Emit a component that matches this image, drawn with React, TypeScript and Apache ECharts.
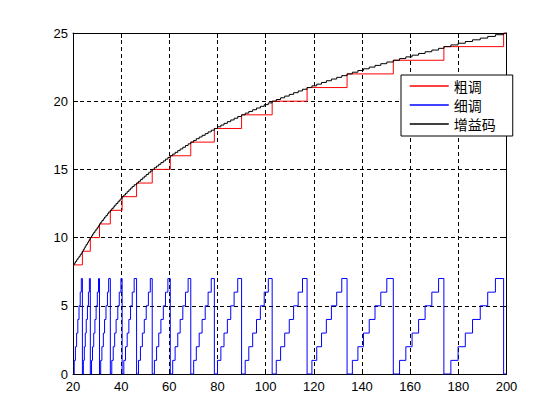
import React, { useEffect, useRef } from "react";
import * as echarts from "echarts";

// x positions where the coarse code (粗调) steps up, read from the red steps / blue drops
const coarseStepX = [20, 23.9, 27.2, 31.0, 35.5, 40.4, 46.4, 52.9, 60.4, 68.9, 78.7, 90.0, 102.7, 117.2, 133.8, 153.0, 174.0, 198.8];
const coarseLevels = [8, 9, 10, 11, 12, 13, 14, 15, 16, 17, 18, 19, 20, 21, 22, 23, 24, 25];

// x positions where the fine code (细调) takes values 0..7 inside each coarse step
const fineStepX: number[][] = [
  [20, 20.5, 21.0, 21.5, 22.0, 22.5, 23.0, 23.45],
  [23.9, 24.3, 24.7, 25.1, 25.5, 26.0, 26.4, 26.8],
  [27.2, 27.7, 28.1, 28.6, 29.1, 29.6, 30.1, 30.6],
  [31.0, 31.5, 32.0, 32.6, 33.1, 33.7, 34.3, 34.8],
  [35.5, 36.1, 36.7, 37.3, 37.9, 38.6, 39.2, 39.9],
  [40.4, 41.1, 41.8, 42.5, 43.2, 43.9, 44.6, 45.4],
  [46.4, 47.2, 48.0, 48.8, 49.6, 50.4, 51.3, 52.1],
  [52.9, 53.8, 54.7, 55.6, 56.5, 57.5, 58.4, 59.4],
  [60.4, 61.4, 62.4, 63.5, 64.5, 65.6, 66.7, 67.8],
  [68.9, 70.1, 71.2, 72.4, 73.6, 74.9, 76.1, 77.4],
  [78.7, 80.0, 81.4, 82.7, 84.1, 85.5, 86.9, 88.4],
  [90.0, 91.5, 93.0, 94.6, 96.2, 97.8, 99.4, 101.1],
  [102.7, 104.4, 106.2, 107.9, 109.8, 111.6, 113.5, 115.3],
  [117.2, 119.2, 121.2, 123.2, 125.2, 127.3, 129.5, 131.6],
  [133.8, 136.0, 138.3, 140.6, 143.0, 145.4, 147.8, 150.3],
  [153.0, 155.6, 158.2, 160.8, 163.5, 166.2, 169.0, 171.8],
  [174.0, 176.9, 179.9, 182.9, 185.9, 189.1, 192.2, 195.4],
];
const fineCodes = [0, 1, 2, 3, 4, 5, 6, 7];

const xTicks = [20, 40, 60, 80, 100, 120, 140, 160, 180, 200];
const yTicks = [0, 5, 10, 15, 20, 25];

const seriesNames = ["粗调", "细调", "增益码"];
const seriesColors = ["#ff0000", "#0000ff", "#000000"];

export default function App() {
  const ref = useRef<HTMLDivElement>(null);

  useEffect(() => {
    if (!ref.current) return;
    const chart = echarts.init(ref.current, null, { renderer: "svg" });
    const xMin = xTicks[0];
    const xMax = xTicks[xTicks.length - 1];
    const lastIdx = coarseStepX.length - 1;

    const coarseData: number[][] = coarseStepX.map((x, i) => [x, coarseLevels[i]]);
    coarseData.push([xMax, coarseLevels[lastIdx]]);

    const fineData: number[][] = [];
    const gainData: number[][] = [];
    fineStepX.forEach((row, i) => {
      row.forEach((x, j) => {
        fineData.push([x, fineCodes[j]]);
        gainData.push([x, coarseLevels[i] + fineCodes[j] / 8]);
      });
    });
    fineData.push([coarseStepX[lastIdx], fineCodes[0]]);
    fineData.push([xMax, fineCodes[0]]);
    gainData.push([coarseStepX[lastIdx], coarseLevels[lastIdx]]);
    gainData.push([xMax, coarseLevels[lastIdx]]);

    const font = "'Liberation Sans', Arial, Helvetica, sans-serif";
    const mkSeries = (name: string, color: string, data: number[][]) => ({
      name,
      type: "line",
      data,
      step: "end",
      symbol: "none",
      showSymbol: false,
      lineStyle: { color, width: 1 },
      itemStyle: { color },
      xAxisIndex: 0,
      yAxisIndex: 0,
    });

    chart.setOption({
      animation: false,
      backgroundColor: "#ffffff",
      grid: { left: 73, right: 53.5, top: 33, bottom: 46, containLabel: false },
      xAxis: [
        {
          type: "value",
          min: xMin,
          max: xMax,
          interval: 20,
          position: "bottom",
          axisLine: { show: true, onZero: false, lineStyle: { color: "#000", width: 1 } },
          axisTick: { show: true, inside: true, length: 5, lineStyle: { color: "#000" } },
          axisLabel: { color: "#000", fontSize: 13, fontFamily: font, margin: 6 },
          splitLine: { show: true, lineStyle: { color: "#000", type: [4, 3], width: 1 } },
        },
        {
          type: "value",
          min: xMin,
          max: xMax,
          interval: 20,
          position: "top",
          axisLine: { show: true, onZero: false, lineStyle: { color: "#000", width: 1 } },
          axisTick: { show: true, inside: true, length: 5, lineStyle: { color: "#000" } },
          axisLabel: { show: false },
          splitLine: { show: false },
        },
      ],
      yAxis: [
        {
          type: "value",
          min: yTicks[0],
          max: yTicks[yTicks.length - 1],
          interval: 5,
          position: "left",
          axisLine: { show: true, onZero: false, lineStyle: { color: "#000", width: 1 } },
          axisTick: { show: true, inside: true, length: 5, lineStyle: { color: "#000" } },
          axisLabel: { color: "#000", fontSize: 13, fontFamily: font, margin: 5 },
          splitLine: { show: true, lineStyle: { color: "#000", type: [4, 3], width: 1 } },
        },
        {
          type: "value",
          min: yTicks[0],
          max: yTicks[yTicks.length - 1],
          interval: 5,
          position: "right",
          axisLine: { show: true, onZero: false, lineStyle: { color: "#000", width: 1 } },
          axisTick: { show: true, inside: true, length: 5, lineStyle: { color: "#000" } },
          axisLabel: { show: false },
          splitLine: { show: false },
        },
      ],
      legend: {
        data: seriesNames,
        orient: "vertical",
        left: 401,
        top: 75,
        itemWidth: 39,
        itemHeight: 14,
        itemGap: 5,
        padding: [4, 17, 5, 8],
        backgroundColor: "#ffffff",
        borderColor: "#000000",
        borderWidth: 1,
        borderRadius: 0,
        itemStyle: { opacity: 0 },
        lineStyle: { width: 1.5 },
        textStyle: {
          color: "#000",
          fontSize: 14,
          lineHeight: 14,
          fontFamily: "'Noto Sans CJK SC', sans-serif",
        },
      },
      series: [
        mkSeries(seriesNames[0], seriesColors[0], coarseData),
        mkSeries(seriesNames[1], seriesColors[1], fineData),
        mkSeries(seriesNames[2], seriesColors[2], gainData),
      ],
    });
    return () => chart.dispose();
  }, []);

  return (
    <div
      ref={ref}
      style={{ position: "fixed", left: 0, top: 0, width: 560, height: 420, background: "#fff" }}
    />
  );
}
